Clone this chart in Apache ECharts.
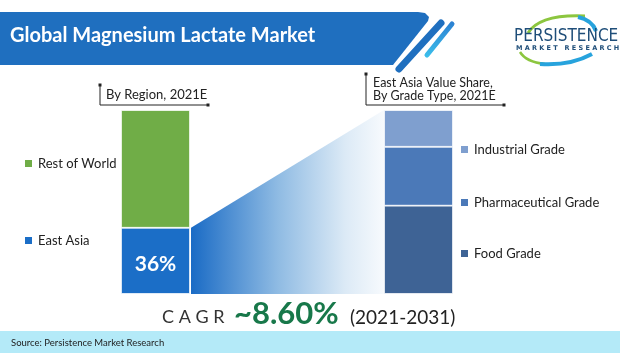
<!DOCTYPE html>
<html>
<head>
<meta charset="utf-8">
<script src="https://cdn.jsdelivr.net/npm/echarts@6/dist/echarts.min.js"></script>
<style>
  html, body { margin: 0; padding: 0; background: #fff; }
  #chart { width: 620px; height: 353px; }
</style>
</head>
<body>
<div id="chart"></div>
<script>
// regional split (bottom to top)
const regionNames = ['East Asia', 'Rest of World'];
const regionShare = [36, 64];
// east asia split by grade (bottom to top)
const gradeNames = ['Food Grade', 'Pharmaceutical Grade', 'Industrial Grade'];
const gradeShare = [48, 32, 20];
const cagrText = '~8.60%';
const cagrPeriod = '(2021-2031)';

const regionColors = ['#1b6ec7', '#70ad47'];
const gradeColors = ['#3e6395', '#4b79b8', '#7f9fcf'];
const font = 'Lato, "Open Sans", sans-serif';

const chart = echarts.init(document.getElementById('chart'));

const barSeries = [];
regionNames.forEach((name, i) => {
    barSeries.push({
        name: name,
        type: 'bar',
        stack: 'region',
        xAxisIndex: 0,
        yAxisIndex: 0,
        barWidth: '100%',
        data: [regionShare[i]],
        itemStyle: { color: regionColors[i], borderColor: '#fff', borderWidth: 0.8 },
        label: {
            show: i === 0,
            position: 'inside',
            formatter: '{c}%',
            color: '#fff',
            fontFamily: font,
            fontWeight: 'bold',
            fontSize: 21,
            offset: [0, 3]
        }
    });
});
gradeNames.forEach((name, i) => {
    barSeries.push({
        name: name,
        type: 'bar',
        stack: 'grade',
        xAxisIndex: 1,
        yAxisIndex: 1,
        barWidth: '100%',
        data: [gradeShare[i]],
        itemStyle: { color: gradeColors[i], borderColor: '#fff', borderWidth: 0.8 }
    });
});

// fan connecting the east asia slice with the full grade bar
barSeries.push({
    type: 'custom',
    xAxisIndex: 2,
    yAxisIndex: 2,
    silent: true,
    data: [[0, regionShare[0]]],
    renderItem: function (params, api) {
        const top = api.value(1);
        return {
            type: 'polygon',
            shape: {
                points: [api.coord([0, 0]), api.coord([0, top]), api.coord([1, 100]), api.coord([1, 0])]
            },
            style: {
                fill: new echarts.graphic.LinearGradient(0, 0, 1, 0, [
                    { offset: 0, color: '#1a6bc5' },
                    { offset: 0.45, color: '#8fbbe3' },
                    { offset: 0.8, color: '#dceaf6' },
                    { offset: 1, color: '#f7fafd' }
                ])
            }
        };
    }
});

function legendAt(name, left, top) {
    return {
        data: [name],
        left: left,
        top: top,
        icon: 'rect',
        itemWidth: 9,
        itemHeight: 9,
        itemGap: 5,
        selectedMode: false,
        textStyle: { fontFamily: font, fontSize: 13, color: '#222' }
    };
}

const gridBox = { top: 110, height: 184 };

chart.setOption({
    animation: false,
    grid: [
        Object.assign({ left: 121, width: 69 }, gridBox),
        Object.assign({ left: 384, width: 69 }, gridBox),
        Object.assign({ left: 191, width: 193 }, gridBox)
    ],
    xAxis: [
        { type: 'category', gridIndex: 0, data: ['Region'], show: false },
        { type: 'category', gridIndex: 1, data: ['Grade'], show: false },
        { type: 'value', gridIndex: 2, min: 0, max: 1, show: false }
    ],
    yAxis: [0, 1, 2].map(i => ({ type: 'value', gridIndex: i, min: 0, max: 100, show: false })),
    legend: [
        legendAt('Rest of World', 18, 152),
        legendAt('East Asia', 18, 229),
        legendAt('Industrial Grade', 454, 138),
        legendAt('Pharmaceutical Grade', 454, 191),
        legendAt('Food Grade', 454, 242)
    ],
    series: barSeries,
    graphic: [
        // title banner
        {
            type: 'polygon',
            shape: { points: [[0, 12], [418, 12], [425, 13], [429, 17], [428, 21], [393, 65], [0, 65]] },
            style: { fill: '#1f6fbf' }
        },
        {
            type: 'line',
            shape: { x1: 441, y1: 23, x2: 399, y2: 69 },
            style: { stroke: '#1f6fbf', lineWidth: 7, lineCap: 'round' }
        },
        {
            type: 'line',
            shape: { x1: 452, y1: 24, x2: 427, y2: 55 },
            style: {
                stroke: new echarts.graphic.LinearGradient(0, 0, 0, 1, [
                    { offset: 0, color: '#2b7fd1' },
                    { offset: 1, color: '#3cc0ec' }
                ]),
                lineWidth: 5,
                lineCap: 'round'
            }
        },
        {
            type: 'text',
            left: 10,
            top: 26,
            style: { text: 'Global Magnesium Lactate Market', fill: '#fff', font: 'bold 20px ' + font }
        },
        // logo
        {
            type: 'bezierCurve',
            shape: { x1: 528, y1: 33, cpx1: 540, cpy1: 14, x2: 585, y2: 16 },
            style: { stroke: '#8cc63f', lineWidth: 3, fill: null }
        },
        {
            type: 'bezierCurve',
            shape: { x1: 578, y1: 17, cpx1: 592, cpy1: 20, x2: 596, y2: 31 },
            style: { stroke: '#27a3dd', lineWidth: 4, fill: null }
        },
        {
            type: 'bezierCurve',
            shape: { x1: 520, y1: 52, cpx1: 526, cpy1: 62, x2: 545, y2: 64 },
            style: { stroke: '#8cc63f', lineWidth: 2.5, fill: null }
        },
        {
            type: 'bezierCurve',
            shape: { x1: 540, y1: 64, cpx1: 570, cpy1: 66, x2: 592, y2: 54 },
            style: { stroke: '#27a3dd', lineWidth: 4, fill: null }
        },
        {
            type: 'text',
            left: 514,
            top: 28,
            style: { text: 'PERSISTENCE', fill: '#1f4e79', font: '17px "Liberation Sans Narrow", "DejaVu Sans Condensed", sans-serif' }
        },
        {
            type: 'text',
            left: 516,
            top: 45,
            style: { text: 'M A R K E T   R E S E A R C H', fill: '#1f4e79', font: 'bold 6.5px "DejaVu Sans", sans-serif' }
        },
        // region caption
        {
            type: 'polyline',
            shape: { points: [[100, 85], [100, 105], [208, 105]] },
            style: { stroke: '#222', lineWidth: 1, fill: null }
        },
        { type: 'rect', shape: { x: 98.5, y: 83.5, width: 3, height: 3 }, style: { fill: '#222' } },
        { type: 'rect', shape: { x: 206.5, y: 103.5, width: 3, height: 3 }, style: { fill: '#222' } },
        {
            type: 'text',
            left: 106,
            top: 88,
            style: { text: 'By Region, 2021E', fill: '#222', font: '13px ' + font }
        },
        // grade caption
        {
            type: 'polyline',
            shape: { points: [[366, 74], [366, 105], [504, 105]] },
            style: { stroke: '#222', lineWidth: 1, fill: null }
        },
        { type: 'rect', shape: { x: 364.5, y: 72.5, width: 3, height: 3 }, style: { fill: '#222' } },
        { type: 'rect', shape: { x: 502.5, y: 103.5, width: 3, height: 3 }, style: { fill: '#222' } },
        {
            type: 'text',
            left: 373,
            top: 76,
            style: { text: 'East Asia Value Share,\nBy Grade Type, 2021E', fill: '#222', font: '12.5px ' + font, lineHeight: 13 }
        },
        // cagr line
        {
            type: 'text',
            x: 162,
            y: 317.5,
            style: { text: 'C A G R', fill: '#333', font: '18px ' + font, verticalAlign: 'middle' }
        },
        {
            type: 'text',
            x: 234,
            y: 314,
            style: { text: cagrText, fill: '#18784a', font: 'bold 31px ' + font, verticalAlign: 'middle' }
        },
        {
            type: 'text',
            x: 350,
            y: 318,
            style: { text: cagrPeriod, fill: '#222', font: '19px ' + font, verticalAlign: 'middle' }
        },
        // footer
        {
            type: 'rect',
            shape: { x: 0, y: 331, width: 620, height: 22 },
            style: { fill: '#b4eaf8' }
        },
        {
            type: 'text',
            left: 11,
            top: 338,
            style: { text: 'Source: Persistence Market Research', fill: '#222', font: '9.5px ' + font }
        }
    ]
});
</script>
</body>
</html>
